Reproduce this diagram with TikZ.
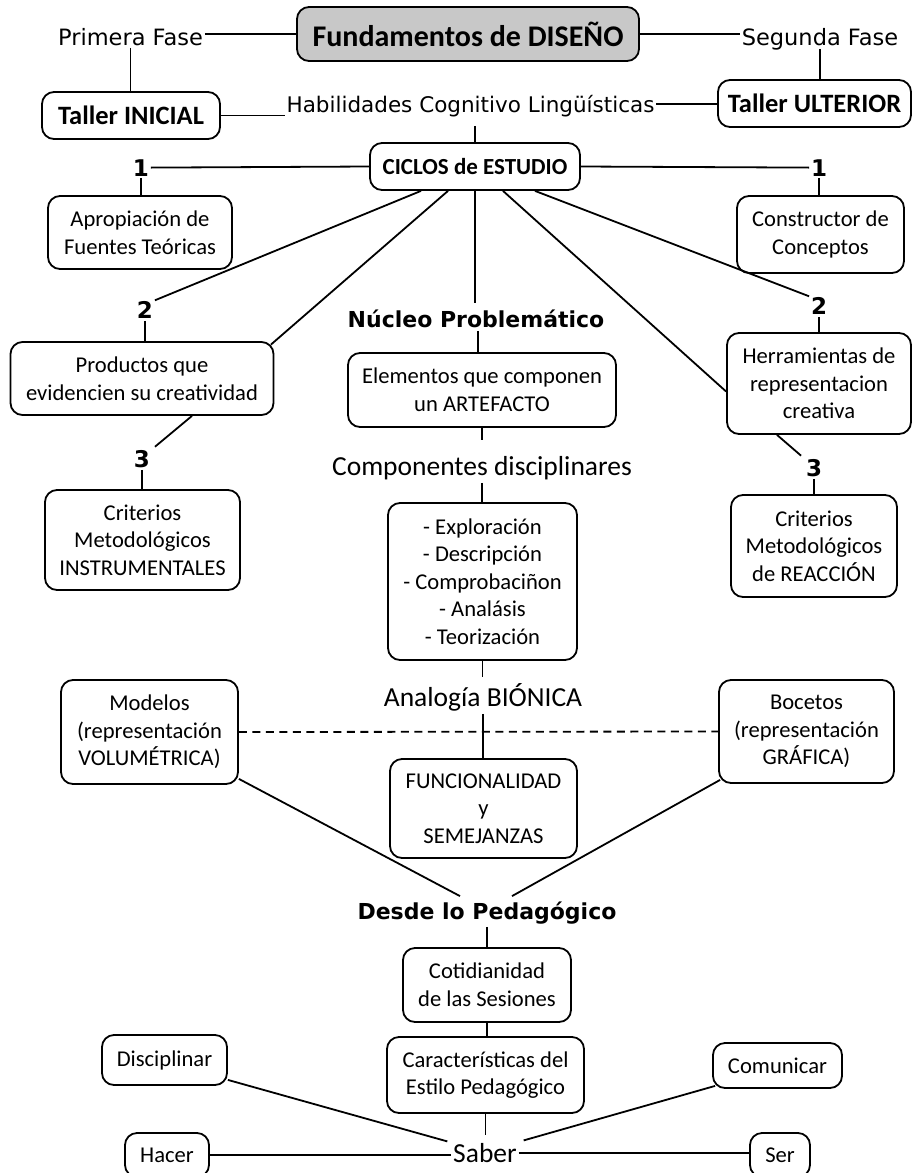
\documentclass[tikz,border=0pt]{standalone}
\usepackage{fontspec}
\setmainfont{Carlito}
\newfontfamily\verd{DejaVu Sans}
\definecolor{fundgray}{RGB}{200,200,200}
\begin{document}
\begin{tikzpicture}[x=1pt,y=-1pt,line width=1.8pt,line cap=butt,
  box/.style={draw, rounded corners=12pt, align=center, inner sep=0pt,
              font=\fontsize{22.6}{27.6}\selectfont},
  hdr/.style={box, font=\fontsize{26.5}{30}\selectfont\bfseries},
  lbl/.style={inner xsep=1pt, inner ysep=0pt, text height=15.7pt, text depth=0pt,
              font=\verd\fontsize{21.5}{26}\selectfont},
  phase/.style={lbl, text height=16.4pt, font=\verd\fontsize{22.5}{26}\selectfont},
  blbl/.style={lbl, text height=16pt, font=\verd\bfseries\fontsize{22}{26}\selectfont},
  num/.style={lbl, text height=16.8pt, font=\verd\bfseries\fontsize{23}{26}\selectfont},
  clbl/.style={inner xsep=1pt, inner ysep=0pt, text height=17.7pt, text depth=0pt,
               font=\fontsize{27.5}{32}\selectfont},
  dashline/.style={dash pattern=on 8pt off 5.5pt}]
\useasboundingbox (0,0) rectangle (913,1173);

% ---- top: the two phases ----
\node[box, fill=fundgray, minimum width=342pt, minimum height=54pt,
      font=\fontsize{30}{34}\selectfont\bfseries] (fund) at (468,34) {Fundamentos de DISEÑO};
\node[phase, anchor=base] (primera) at (130.5,45) {Primera Fase};
\node[phase, anchor=base] (segunda) at (820,45) {Segunda Fase};
\node[hdr, minimum width=178pt, minimum height=47pt] (tini) at (131,115.5) {Taller INICIAL};
\node[hdr, minimum width=193pt, minimum height=47pt] (tult) at (814.5,103.5) {Taller ULTERIOR};
\node[lbl, anchor=base] (habil) at (470.5,112) {Habilidades Cognitivo Lingüísticas};
\node[box, font=\fontsize{23}{26}\selectfont\bfseries, minimum width=210pt,
      minimum height=47pt] (ciclos) at (475,166.5) {CICLOS de ESTUDIO};

% ---- study cycles ----
\node[num, anchor=base] (oneL) at (141,176) {1};
\node[num, anchor=base] (oneR) at (819,176) {1};
\node[box, minimum width=184pt, minimum height=73pt] (aprop) at (140,232.5) {Apropiación de\\Fuentes Teóricas};
\node[box, minimum width=167pt, minimum height=77pt] (constr) at (820.5,234.5) {Constructor de\\Conceptos};
\node[num, anchor=base] (twoL) at (145,318) {2};
\node[num, anchor=base] (twoR) at (819,314) {2};
\node[blbl, anchor=base] (nucleo) at (476,327) {Núcleo Problemático};
\node[box, minimum width=263pt, minimum height=73pt] (prod) at (142,378.5) {Productos que\\evidencien su creatividad};
\node[box, minimum width=268pt, minimum height=74pt] (elem) at (482,390) {Elementos que componen\\un ARTEFACTO};
\node[box, minimum width=184pt, minimum height=101pt] (herr) at (819,383.5) {Herramientas de\\representacion\\creativa};
\node[num, anchor=base] (threeL) at (142,467) {3};
\node[num, anchor=base] (threeR) at (814,476) {3};
\node[clbl, anchor=base] (comp) at (482,475) {Componentes disciplinares};
\node[box, minimum width=195pt, minimum height=100pt] (critI) at (142.5,540) {Criterios\\Metodológicos\\INSTRUMENTALES};
\node[box, minimum width=166pt, minimum height=102pt] (critR) at (814,546) {Criterios\\Metodológicos\\de REACCIÓN};
\node[box, minimum width=189pt, minimum height=157pt] (explor) at (482.5,581.5)
  {- Exploración\\- Descripción\\- Comprobaciñon\\- Analásis\\- Teorización};

% ---- bionic analogy ----
\node[clbl, anchor=base] (analog) at (483,706) {Analogía BIÓNICA};
\node[box, minimum width=177pt, minimum height=104pt] (model) at (149.5,732) {Modelos\\(representación\\VOLUMÉTRICA)};
\node[box, minimum width=175pt, minimum height=103pt] (boc) at (806.5,731.5) {Bocetos\\(representación\\GRÁFICA)};
\node[box, minimum width=187pt, minimum height=99pt] (func) at (483.5,808.5) {FUNCIONALIDAD\\y\\SEMEJANZAS};

% ---- pedagogy ----
\node[blbl, anchor=base] (desde) at (487,919) {Desde lo Pedagógico};
\node[box, minimum width=168pt, minimum height=74pt] (cotid) at (487,985) {Cotidianidad\\de las Sesiones};
\node[box, minimum width=197pt, minimum height=76pt] (caract) at (485.5,1075) {Características del\\Estilo Pedagógico};
\node[clbl, anchor=base] (saber) at (485,1162) {Saber};
\node[box, minimum width=125pt, minimum height=50pt] (disc) at (164.5,1060) {Disciplinar};
\node[box, minimum width=129pt, minimum height=45pt] (comu) at (777.5,1065.5) {Comunicar};
\node[box, minimum width=84pt, minimum height=44pt] (hacer) at (167,1155) {Hacer};
\node[box, minimum width=60pt, minimum height=44pt] (ser) at (780,1155) {Ser};

% ---- connectors ----
\draw (primera.east |- fund.west) -- (fund.west);
\draw (fund.east) -- (fund.east -| segunda.west);
\draw[shorten <=2pt] (primera.south) -- (primera.south |- tini.north);
\draw[shorten <=3pt] (segunda.south) -- (segunda.south |- tult.north);
\draw (tini.east) -- (tini.east -| habil.west);
\draw (habil.east) -- (habil.east -| tult.west);
\draw[shorten <=13pt] (ciclos.north |- habil.south) -- (ciclos.north);

\draw (ciclos.west) -- (oneL.east);
\draw (ciclos.east) -- (oneR.west);
\draw[shorten <=1pt] (oneL.south) -- (oneL.south |- aprop.north);
\draw[shorten <=1pt] (oneR.south) -- (oneR.south |- constr.north);
\draw ([xshift=-54pt]ciclos.south) -- (twoL.north east);
\draw ([xshift=-27pt]ciclos.south) -- ([xshift=-3.5pt,yshift=-3.5pt]prod.north east);
\draw[shorten >=7pt] (ciclos.south) -- (ciclos.south |- nucleo.north);
\draw ([xshift=28pt]ciclos.south) -- ([yshift=-8pt]herr.west);
\draw ([xshift=60pt]ciclos.south) -- (twoR.north west);
\draw[shorten <=2pt] (twoL.south) -- (twoL.south |- prod.north);
\draw[shorten <=2pt] (twoR.south) -- (twoR.south |- herr.north);
\draw[shorten <=3pt] ([xshift=2pt]nucleo.south) -- ([xshift=2pt]nucleo.south |- elem.north);
\draw[shorten >=4pt] ([xshift=50pt]prod.south) -- (threeL.north east);
\draw[shorten >=4pt] ([xshift=-42pt]herr.south) -- (threeR.north west);
\draw[shorten <=2pt] (threeL.south) -- (threeL.south |- critI.north);
\draw[shorten <=2pt] (threeR.south) -- (threeR.south |- critR.north);
\draw[shorten >=16pt] (elem.south) -- (elem.south |- comp.north);
\draw[shorten <=7pt] (comp.south) -- (comp.south |- explor.north);
\draw[shorten >=10pt] (explor.south) -- (explor.south |- analog.north);
\draw[shorten <=7pt] (analog.south) -- (analog.south |- func.north);

\draw[dashline] (model.east) -- (boc.west);
\draw ([yshift=6pt]model.south east) -- ([xshift=-27pt,yshift=6pt]desde.north);
\draw ([xshift=2pt,yshift=4pt]boc.south west) -- ([xshift=25pt,yshift=6pt]desde.north);
\draw[shorten <=7pt] (desde.south) -- (desde.south |- cotid.north);
\draw (cotid.south) -- (cotid.south |- caract.north);
\draw[shorten >=8pt] (caract.south) -- (caract.south |- saber.north);
\draw ([yshift=6pt]disc.south east) -- ([xshift=-4pt,yshift=2pt]saber.north west);
\draw ([xshift=3pt,yshift=3pt]comu.south west) -- ([xshift=5pt,yshift=3pt]saber.north east);
\draw (hacer.east) -- (hacer.east -| saber.west);
\draw (saber.east) -- (saber.east -| ser.west);
\end{tikzpicture}
\end{document}
